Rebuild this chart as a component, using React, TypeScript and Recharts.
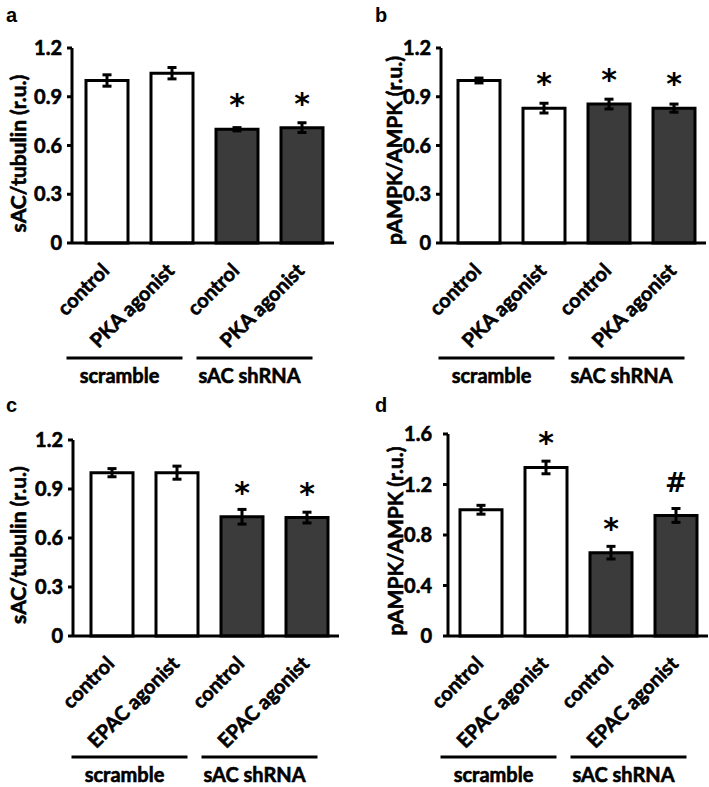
import React from 'react';
import { BarChart, Bar, XAxis, YAxis, Cell, ErrorBar, LabelList } from 'recharts';

const FONT = 'Lato, "Open Sans", sans-serif';
const WEIGHT = 700;
const THICK = 0.6; // thin outline to make the bold text heavier
const MARK_FONT = '"DejaVu Sans", sans-serif';
const LETTER_FONT = '"Liberation Sans", Arial, sans-serif';

// x categories
const groups = ['scramble', 'scramble', 'sAC shRNA', 'sAC shRNA'];
const pkaLabels = ['control', 'PKA agonist', 'control', 'PKA agonist'];
const epacLabels = ['control', 'EPAC agonist', 'control', 'EPAC agonist'];

// a: sAC/tubulin, PKA agonist
const sacPkaValues = [1.0, 1.045, 0.7, 0.71];
const sacPkaErrors = [0.035, 0.035, 0.01, 0.03];
const sacPkaMarks = ['', '', '*', '*'];

// b: pAMPK/AMPK, PKA agonist
const ampkPkaValues = [1.0, 0.83, 0.855, 0.83];
const ampkPkaErrors = [0.015, 0.03, 0.03, 0.025];
const ampkPkaMarks = ['', '*', '*', '*'];

// c: sAC/tubulin, EPAC agonist
const sacEpacValues = [1.0, 1.0, 0.73, 0.725];
const sacEpacErrors = [0.025, 0.04, 0.045, 0.033];
const sacEpacMarks = ['', '', '*', '*'];

// d: pAMPK/AMPK, EPAC agonist
const ampkEpacValues = [1.0, 1.335, 0.66, 0.955];
const ampkEpacErrors = [0.035, 0.05, 0.05, 0.055];
const ampkEpacMarks = ['', '*', '*', '#'];

const ticks12 = [0, 0.3, 0.6, 0.9, 1.2];
const ticks16 = [0, 0.4, 0.8, 1.2, 1.6];

const WHITE = '#ffffff';
const DARK = '#3b3b3b';

function CategoryTick(props: any) {
  const { x, y, payload, index, band, lineGap } = props;
  const tx = x + 4;
  const ty = y + 29;
  return (
    <g>
      <text
        x={tx}
        y={ty}
        transform={`rotate(-45 ${tx} ${ty})`}
        textAnchor="end"
        fontFamily={FONT}
        fontSize={20}
        fontWeight={WEIGHT}
        fill="#000"
        stroke="#000"
        strokeWidth={THICK}
      >
        {payload.value}
      </text>
      {index % 2 === 0 && (
        <g>
          <line
            x1={x - 40}
            x2={x + band + 11}
            y1={y + lineGap}
            y2={y + lineGap}
            stroke="#000"
            strokeWidth={3}
          />
          <text
            x={x + 13}
            y={y + lineGap + 25}
            textAnchor="middle"
            fontFamily={FONT}
            fontSize={20}
            fontWeight={WEIGHT}
            fill="#000"
            stroke="#000"
            strokeWidth={THICK}
          >
            {groups[index]}
          </text>
        </g>
      )}
    </g>
  );
}

function MarkLabel(props: any) {
  const { x, y, width, value } = props;
  if (!value) return null;
  const hash = value === '#';
  return (
    <text
      x={x + width / 2}
      y={y - (hash ? 23 : 14)}
      textAnchor="middle"
      fontFamily={MARK_FONT}
      fontSize={hash ? 26 : 30}
      fontWeight={700}
      fill="#000"
    >
      {value}
    </text>
  );
}

function Panel(props: any) {
  const {
    letter, left, top, height, plotLeft, padLeft, plotRight, plotTop, plotBottom,
    yMax, yTicks, tickGap, yLabel, labelX, labelShift, labels, values, errors, marks, lineGap,
  } = props;
  const data = labels.map((name: string, i: number) => ({
    name,
    group: groups[i],
    value: values[i],
    err: errors[i],
    mark: marks[i],
  }));
  const band = (plotRight - plotLeft - padLeft) / labels.length;
  const midY = (plotTop + plotBottom) / 2 + labelShift;

  return (
    <div style={{ position: 'absolute', left, top, width: 354, height }}>
      <div
        style={{
          position: 'absolute',
          left: letter === 'b' || letter === 'd' ? 21 : 6,
          top: 5,
          fontFamily: LETTER_FONT,
          fontWeight: 700,
          fontSize: 20,
          lineHeight: '20px',
        }}
      >
        {letter}
      </div>
      <BarChart
        width={354}
        height={height}
        data={data}
        margin={{ top: plotTop, right: 354 - plotRight, left: 0, bottom: 0 }}
      >
        <XAxis
          dataKey="name"
          type="category"
          interval={0}
          height={height - plotBottom}
          padding={{ left: padLeft, right: 0 }}
          axisLine={{ stroke: '#000', strokeWidth: 3 }}
          tickLine={false}
          tickSize={0}
          tickMargin={0}
          tick={(p: any) => <CategoryTick {...p} band={band} lineGap={lineGap} />}
        />
        <YAxis
          type="number"
          width={plotLeft}
          domain={[0, yMax]}
          ticks={yTicks}
          interval={0}
          tickFormatter={(v: number) => (v === 0 ? '0' : v.toFixed(1))}
          axisLine={{ stroke: '#000', strokeWidth: 3 }}
          tickLine={{ stroke: '#000', strokeWidth: 3 }}
          tickSize={5}
          tickMargin={tickGap}
          tick={{
            fill: '#000',
            stroke: '#000',
            strokeWidth: THICK,
            fontSize: 20,
            fontWeight: WEIGHT,
            fontFamily: FONT,
          }}
          label={() => (
            <text
              transform={`translate(${labelX},${midY}) rotate(-90)`}
              textAnchor="middle"
              dominantBaseline="central"
              fontFamily={FONT}
              fontSize={21}
              fontWeight={WEIGHT}
              fill="#000"
              stroke="#000"
              strokeWidth={THICK}
            >
              {yLabel}
            </text>
          )}
        />
        <Bar dataKey="value" barSize={42} stroke="#000" strokeWidth={3} isAnimationActive={false}>
          {data.map((d: any, i: number) => (
            <Cell key={`c-${i}`} fill={d.group === 'scramble' ? WHITE : DARK} />
          ))}
          <ErrorBar
            dataKey="err"
            direction="y"
            width={4.5}
            stroke="#000"
            strokeWidth={3}
            isAnimationActive={false}
          />
          <LabelList dataKey="mark" content={MarkLabel} />
        </Bar>
      </BarChart>
    </div>
  );
}

export default function App() {
  return (
    <div
      style={{
        position: 'absolute',
        left: 0,
        top: 0,
        width: 709,
        height: 787,
        background: '#fff',
        overflow: 'hidden',
      }}
    >
      <Panel
        letter="a"
        left={0}
        top={0}
        height={390}
        plotLeft={72}
        padLeft={2}
        plotRight={334}
        plotTop={48}
        plotBottom={243}
        yMax={1.2}
        yTicks={ticks12}
        tickGap={5}
        yLabel="sAC/tubulin (r.u.)"
        labelX={17}
        labelShift={8}
        labels={pkaLabels}
        values={sacPkaValues}
        errors={sacPkaErrors}
        marks={sacPkaMarks}
        lineGap={115}
      />
      <Panel
        letter="b"
        left={354}
        top={0}
        height={390}
        plotLeft={87}
        padLeft={5}
        plotRight={352}
        plotTop={48}
        plotBottom={243}
        yMax={1.2}
        yTicks={ticks12}
        tickGap={5}
        yLabel="pAMPK/AMPK (r.u.)"
        labelX={39}
        labelShift={5}
        labels={pkaLabels}
        values={ampkPkaValues}
        errors={ampkPkaErrors}
        marks={ampkPkaMarks}
        lineGap={115}
      />
      <Panel
        letter="c"
        left={0}
        top={390}
        height={397}
        plotLeft={73}
        padLeft={6}
        plotRight={339}
        plotTop={50}
        plotBottom={246}
        yMax={1.2}
        yTicks={ticks12}
        tickGap={5}
        yLabel="sAC/tubulin (r.u.)"
        labelX={17}
        labelShift={7}
        labels={epacLabels}
        values={sacEpacValues}
        errors={sacEpacErrors}
        marks={sacEpacMarks}
        lineGap={121}
      />
      <Panel
        letter="d"
        left={354}
        top={390}
        height={397}
        plotLeft={94}
        padLeft={0}
        plotRight={354}
        plotTop={44}
        plotBottom={246}
        yMax={1.6}
        yTicks={ticks16}
        tickGap={11}
        yLabel="pAMPK/AMPK (r.u.)"
        labelX={40}
        labelShift={6}
        labels={epacLabels}
        values={ampkEpacValues}
        errors={ampkEpacErrors}
        marks={ampkEpacMarks}
        lineGap={121}
      />
    </div>
  );
}
